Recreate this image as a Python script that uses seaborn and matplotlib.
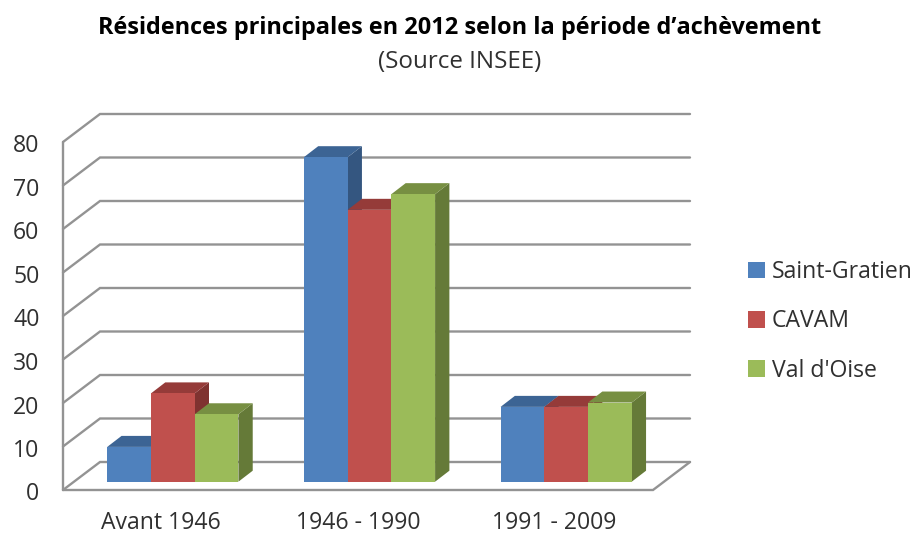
import matplotlib
matplotlib.use("Agg")
import matplotlib.pyplot as plt
import pandas as pd
import seaborn as sns
from matplotlib.patches import Polygon
from matplotlib.transforms import ScaledTranslation

categories = ["Avant 1946", "1946 - 1990", "1991 - 2009"]
saint_gratien = [8.0, 74.6, 17.2]
cavam = [20.3, 62.5, 17.2]
val_doise = [15.5, 66.1, 18.2]
y_ticks = [0, 10, 20, 30, 40, 50, 60, 70, 80]
series_names = ["Saint-Gratien", "CAVAM", "Val d'Oise"]
front_colors = ["#4F81BD", "#C0504D", "#9BBB59"]
top_colors = ["#3C6494", "#953B39", "#778F42"]
side_colors = ["#345680", "#7F3230", "#657A38"]

title = "Résidences principales en 2012 selon la période d’achèvement"
subtitle = "(Source INSEE)"

W, H = 916, 533
FONT = "Open Sans"
TXT = "#303030"
GRID = "#939393"
sns.set_theme(style="white")
plt.rcParams["font.family"] = [FONT, "DejaVu Sans"]

df = pd.DataFrame({
    "cat": categories * 3,
    "serie": [n for n in series_names for _ in categories],
    "val": saint_gratien + cavam + val_doise,
})

fig = plt.figure(figsize=(W / 100, H / 100), dpi=100, facecolor="white")


def rect(left, top, right, bottom):
    return [left / W, (H - bottom) / H, (right - left) / W, (bottom - top) / H]


# Front plane of the 3D box: axis, ticks and labels
ax = fig.add_axes(rect(63, 142, 653, 490), zorder=1)
ax.set_xlim(-0.5, 2.5)
ax.set_ylim(0, 80)
ax.patch.set_alpha(0)
for s in ax.spines.values():
    s.set_visible(False)
ax.set_xticks(range(3), categories)
ax.set_yticks(y_ticks)
ax.tick_params(axis="both", length=0, labelsize=16.6, labelcolor=TXT)
ax.tick_params(axis="y", pad=17)
ax.tick_params(axis="x", pad=15)
ax.grid(False)
shift = ScaledTranslation(0, -1.5 / 100, fig.dpi_scale_trans)
for lab in ax.get_yticklabels():
    lab.set_transform(lab.get_transform() + shift)

px_x = 3 / 590          # data units per pixel along x
px_y = 80 / 348         # data units per pixel along y
wall_dx, wall_dy = 37 * px_x, 28 * px_y
lw = 1.7
line = dict(color=GRID, lw=lw, clip_on=False, solid_capstyle="round", solid_joinstyle="miter")
x0, x1 = ax.get_xlim()
for v in y_ticks:
    ax.plot([x0, x0 + wall_dx, x1 + wall_dx], [v, v + wall_dy, v + wall_dy], **line)
ax.plot([x0, x0], [0, 80], **line)
ax.plot([x0, x1, x1 + wall_dx], [0, 0, wall_dy], **line)

# Bars sit in a plane set back from the front of the box
bx = fig.add_axes(rect(63 + 11.5, 142 - 8.3, 653 + 11.5, 490 - 8.3), zorder=2)
sns.barplot(data=df, x="cat", y="val", hue="serie", hue_order=series_names,
            palette=front_colors, width=0.667, gap=0, saturation=1,
            errorbar=None, ax=bx, linewidth=0)
bx.set_xlim(-0.5, 2.5)
bx.set_ylim(0, 80)
bx.axis("off")
bx.patch.set_alpha(0)
handles, labels = bx.get_legend_handles_labels()
bx.get_legend().remove()

dx, dy = 14.3 * px_x, 11 * px_y
for i, bars in enumerate(bx.containers):
    for bar in bars:
        xl, xr = bar.get_x(), bar.get_x() + bar.get_width()
        t = bar.get_height()
        z = 3 + 3 * i
        bx.add_patch(Polygon([(xr, 0), (xr + dx, dy), (xr + dx, t + dy), (xr, t)],
                             fc=side_colors[i], ec="none", zorder=z, clip_on=False))
        bx.add_patch(Polygon([(xl, t), (xl + dx, t + dy), (xr + dx, t + dy), (xr, t)],
                             fc=top_colors[i], ec="none", zorder=z + 1, clip_on=False))
        bar.set_zorder(z + 2)

leg = fig.legend(handles, labels, loc="upper left", bbox_to_anchor=(748 / W, (H - 260) / H),
                 frameon=False, fontsize=16.6, labelcolor=TXT, handlelength=0.75, handleheight=0.75,
                 handletextpad=0.27, labelspacing=1.1, borderpad=0, borderaxespad=0)

fig.text(460 / W, (H - 28) / H, title, ha="center", va="center", fontsize=16.9,
         fontweight="bold", color="black")
fig.text(460 / W, (H - 62) / H, subtitle, ha="center", va="center", fontsize=17.4, color=TXT)

fig.savefig("out.png", dpi=100, facecolor="white")
